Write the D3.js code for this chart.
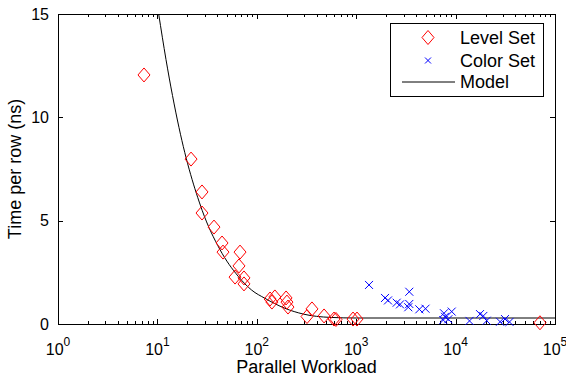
<!DOCTYPE html>
<html>
<head>
<meta charset="utf-8">
<script src="https://cdn.jsdelivr.net/npm/d3@7"></script>
<style>
  body { margin: 0; background: #fff; }
  svg { font-family: "Liberation Sans", Arial, Helvetica, sans-serif; }
</style>
</head>
<body>
<div id="vis1"></div>
<script>
// declare constants
const FRAME_HEIGHT = 376;
const FRAME_WIDTH = 566;
const MARGINS = {left: 58, right: 11, top: 14, bottom: 52};
const VIS_HEIGHT = FRAME_HEIGHT - MARGINS.top - MARGINS.bottom;
const VIS_WIDTH = FRAME_WIDTH - MARGINS.left - MARGINS.right;

// data
const levelSetX = [7.33, 21.8, 28.1, 28.1, 37.1, 44.7, 45.7, 67.8, 66.2, 60.4, 74.3, 74.3,
                   136, 152, 142, 197, 201, 206, 320, 359, 475, 598, 626, 929, 1019, 70600];
const levelSetY = [12.05, 7.98, 6.39, 5.37, 4.69, 3.92, 3.48, 3.48, 2.81, 2.27, 2.23, 1.94,
                   1.21, 1.31, 1.06, 1.26, 1.06, 0.82, 0.36, 0.73, 0.39, 0.24, 0.22, 0.24, 0.24, 0.06];

const colorSetX = [1346, 1950, 2089, 2555, 2760, 3420, 3420, 3342, 4315, 4980, 7640, 7820,
                   9140, 7520, 8450, 13800, 17600, 19000, 20550, 28000, 31400, 34850];
const colorSetY = [1.89, 1.26, 1.14, 1.03, 0.95, 1.56, 0.97, 0.81, 0.71, 0.74, 0.52, 0.35,
                   0.60, 0.19, 0.23, 0.15, 0.48, 0.39, 0.16, 0.11, 0.24, 0.10];

const modelX = [10.3, 12.2, 16.5, 28.2, 42.6, 65.2, 88.8, 121, 192, 294, 545, 1000, 100000];
const modelY = [15, 12.8, 9.5, 5.5, 3.6, 2.3, 1.64, 1.24, 0.76, 0.48, 0.32, 0.29, 0.29];

const xTicks = [1, 10, 100, 1000, 10000, 100000];
const xTickExp = ["0", "1", "2", "3", "4", "5"];
const yTicks = [0, 5, 10, 15];
const legendLabels = ["Level Set", "Color Set", "Model"];

// make the frame
const FRAME1 = d3.select("#vis1")
  .append("svg")
    .attr("height", FRAME_HEIGHT)
    .attr("width", FRAME_WIDTH);

const x = d3.scaleLog().domain([1, 100000]).range([0, VIS_WIDTH]);
const y = d3.scaleLinear().domain([0, 15]).range([VIS_HEIGHT, 0]);

const g = FRAME1.append("g")
  .attr("transform", "translate(" + MARGINS.left + "," + MARGINS.top + ")");

g.append("clipPath").attr("id", "clip")
  .append("rect").attr("width", VIS_WIDTH).attr("height", VIS_HEIGHT);

// minor ticks on the log axis
const minorTicks = [];
for (let d = 1; d < 100000; d *= 10) {
  for (let k = 2; k < 10; k++) minorTicks.push(d * k);
}

function styleAxis(sel) {
  sel.select(".domain").remove();
  sel.selectAll("line").attr("stroke", "#000").attr("shape-rendering", "crispEdges");
}

// bottom + top ticks, pointing inward
g.append("g").attr("transform", "translate(0," + VIS_HEIGHT + ")")
  .call(d3.axisBottom(x).tickValues(xTicks).tickSizeInner(-5).tickSizeOuter(0).tickFormat(""))
  .call(styleAxis);
g.append("g").attr("transform", "translate(0," + VIS_HEIGHT + ")")
  .call(d3.axisBottom(x).tickValues(minorTicks).tickSizeInner(-3).tickSizeOuter(0).tickFormat(""))
  .call(styleAxis);
g.append("g")
  .call(d3.axisTop(x).tickValues(xTicks).tickSizeInner(-5).tickSizeOuter(0).tickFormat(""))
  .call(styleAxis);
g.append("g")
  .call(d3.axisTop(x).tickValues(minorTicks).tickSizeInner(-3).tickSizeOuter(0).tickFormat(""))
  .call(styleAxis);

// left + right ticks
g.append("g")
  .call(d3.axisLeft(y).tickValues(yTicks).tickSizeInner(-5).tickSizeOuter(0).tickPadding(9))
  .call(styleAxis)
  .selectAll("text")
    .attr("fill", "#000")
    .style("font-size", "16px")
    .style("font-family", "Liberation Sans, Arial, sans-serif");
g.append("g").attr("transform", "translate(" + VIS_WIDTH + ",0)")
  .call(d3.axisRight(y).tickValues(yTicks).tickSizeInner(-5).tickSizeOuter(0).tickFormat(""))
  .call(styleAxis);

// x tick labels with superscripts
const xLab = g.selectAll(".xlab")
  .data(xTicks)
  .enter()
  .append("text")
    .attr("class", "xlab")
    .attr("x", function(d) { return x(d); })
    .attr("y", VIS_HEIGHT + 31)
    .attr("text-anchor", "middle")
    .style("font-size", "16px");
xLab.append("tspan").text("10");
xLab.append("tspan")
  .attr("dy", -9)
  .style("font-size", "12px")
  .text(function(d, i) { return xTickExp[i]; });

// frame box
g.append("rect")
  .attr("width", VIS_WIDTH)
  .attr("height", VIS_HEIGHT)
  .attr("fill", "none")
  .attr("stroke", "#000")
  .attr("stroke-width", 1)
  .attr("shape-rendering", "crispEdges");

// model line
const modelData = modelX.map(function(d, i) { return [d, modelY[i]]; });
g.append("path")
  .datum(modelData)
  .attr("clip-path", "url(#clip)")
  .attr("fill", "none")
  .attr("stroke", "#000")
  .attr("stroke-width", 1)
  .attr("d", d3.line()
    .x(function(d) { return x(d[0]); })
    .y(function(d) { return y(d[1]); })
    .curve(d3.curveMonotoneX));

// markers
const diamond = "M0,-7L6,0L0,7L-6,0Z";
const crossMark = "M-4,-4L4,4M-4,4L4,-4";

g.selectAll(".lvl")
  .data(levelSetX)
  .enter()
  .append("path")
    .attr("class", "lvl")
    .attr("transform", function(d, i) { return "translate(" + x(d) + "," + y(levelSetY[i]) + ")"; })
    .attr("d", diamond)
    .attr("fill", "none")
    .attr("stroke", "#ff0000")
    .attr("stroke-width", 1);

g.selectAll(".clr")
  .data(colorSetX)
  .enter()
  .append("path")
    .attr("class", "clr")
    .attr("transform", function(d, i) { return "translate(" + x(d) + "," + y(colorSetY[i]) + ")"; })
    .attr("d", crossMark)
    .attr("fill", "none")
    .attr("stroke", "#0000ff")
    .attr("stroke-width", 1);

// axis titles
FRAME1.append("text")
  .attr("x", MARGINS.left + VIS_WIDTH / 2)
  .attr("y", 373)
  .attr("text-anchor", "middle")
  .style("font-size", "18px")
  .text("Parallel Workload");

FRAME1.append("text")
  .attr("transform", "translate(21," + (MARGINS.top + VIS_HEIGHT / 2) + ")rotate(-90)")
  .attr("text-anchor", "middle")
  .style("font-size", "18px")
  .text("Time per row (ns)");

// legend
const legend = FRAME1.append("g").attr("transform", "translate(390,23)");
legend.append("rect")
  .attr("width", 153)
  .attr("height", 73)
  .attr("fill", "#fff")
  .attr("stroke", "#000")
  .attr("shape-rendering", "crispEdges");
const rowY = [14.5, 37.5, 59];
legend.append("path")
  .attr("transform", "translate(38," + rowY[0] + ")")
  .attr("d", diamond).attr("fill", "none").attr("stroke", "#ff0000");
legend.append("path")
  .attr("transform", "translate(38," + rowY[1] + ")")
  .attr("d", "M-3,-3L3,3M-3,3L3,-3").attr("fill", "none").attr("stroke", "#0000ff");
legend.append("line")
  .attr("x1", 12).attr("x2", 65)
  .attr("y1", rowY[2]).attr("y2", rowY[2])
  .attr("stroke", "#000");
legend.selectAll(".leg")
  .data(legendLabels)
  .enter()
  .append("text")
    .attr("x", 70)
    .attr("y", function(d, i) { return rowY[i]; })
    .attr("dy", "0.35em")
    .style("font-size", "18px")
    .text(function(d) { return d; });
</script>
</body>
</html>
